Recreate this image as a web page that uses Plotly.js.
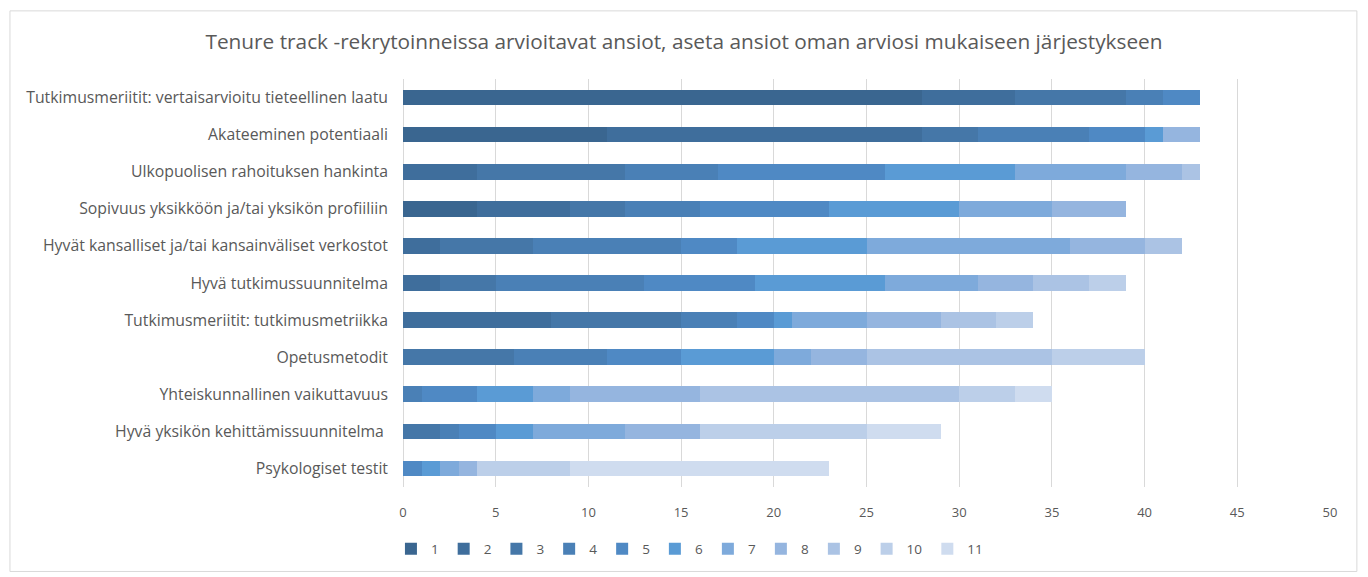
<!DOCTYPE html>
<html>
<head>
<meta charset="utf-8">
<script src="https://cdn.plot.ly/plotly-3.0.1.min.js"></script>
<style>
  html, body { margin: 0; padding: 0; background: #ffffff; }
  #chart { width: 1368px; height: 577px; }
</style>
</head>
<body>
<div id="chart"></div>
<script>
const categories = [
  "Tutkimusmeriitit: vertaisarvioitu tieteellinen laatu",
  "Akateeminen potentiaali",
  "Ulkopuolisen rahoituksen hankinta",
  "Sopivuus yksikköön ja/tai yksikön profiiliin",
  "Hyvät kansalliset ja/tai kansainväliset verkostot",
  "Hyvä tutkimussuunnitelma",
  "Tutkimusmeriitit: tutkimusmetriikka",
  "Opetusmetodit",
  "Yhteiskunnallinen vaikuttavuus",
  "Hyvä yksikön kehittämissuunnitelma\u00a0",
  "Psykologiset testit"
];

const seriesNames = ["1","2","3","4","5","6","7","8","9","10","11"];

const rank1  = [28, 11, 0, 4, 0, 0, 0, 0, 0, 0, 0];
const rank2  = [5, 17, 4, 5, 2, 2, 8, 0, 0, 0, 0];
const rank3  = [6, 3, 8, 3, 5, 3, 7, 6, 0, 2, 0];
const rank4  = [2, 6, 5, 4, 8, 8, 3, 5, 1, 1, 0];
const rank5  = [2, 3, 9, 7, 3, 6, 2, 4, 3, 2, 1];
const rank6  = [0, 1, 7, 7, 7, 7, 1, 5, 3, 2, 1];
const rank7  = [0, 0, 6, 5, 11, 5, 4, 2, 2, 5, 1];
const rank8  = [0, 2, 3, 4, 4, 3, 4, 3, 7, 4, 1];
const rank9  = [0, 0, 1, 0, 2, 3, 3, 10, 14, 0, 0];
const rank10 = [0, 0, 0, 0, 0, 2, 2, 5, 3, 9, 5];
const rank11 = [0, 0, 0, 0, 0, 0, 0, 0, 2, 4, 14];

const seriesValues = [rank1, rank2, rank3, rank4, rank5, rank6, rank7, rank8, rank9, rank10, rank11];

const colors = ["#3a6690", "#3f6e9c", "#4577a8", "#4a80b6", "#4f89c4", "#5a9bd5",
                "#7eaadb", "#95b5df", "#abc3e4", "#bccfe9", "#cfdcef"];

const FONT = "'Open Sans', Lato, sans-serif";

const traces = seriesValues.map((vals, i) => ({
  type: "bar",
  orientation: "h",
  name: seriesNames[i],
  y: categories,
  x: vals,
  marker: { color: colors[i], line: { width: 0 } },
  hoverinfo: "x+name"
}));

const layout = {
  width: 1368,
  height: 577,
  barmode: "stack",
  bargap: 0.58,
  paper_bgcolor: "#ffffff",
  plot_bgcolor: "#ffffff",
  font: { family: FONT, color: "#595959", size: 13 },
  title: {
    text: "Tenure track -rekrytoinneissa arvioitavat ansiot, aseta ansiot oman arviosi mukaiseen järjestykseen",
    font: { family: FONT, size: 20.8, color: "#595959" },
    x: 0.5, xanchor: "center",
    y: 0.927, yanchor: "middle"
  },
  margin: { l: 403, r: 38, t: 79, b: 86 },
  xaxis: {
    range: [0, 50],
    dtick: 5,
    tick0: 0,
    showgrid: true,
    gridcolor: "#d9d9d9",
    gridwidth: 1,
    zeroline: true,
    zerolinecolor: "#d9d9d9",
    showline: false,
    ticks: "",
    ticklabelstandoff: 16,
    tickfont: { family: FONT, size: 13, color: "#595959" },
    fixedrange: true
  },
  yaxis: {
    autorange: "reversed",
    type: "category",
    showgrid: false,
    showline: false,
    ticks: "",
    ticklabelstandoff: 14,
    tickfont: { family: FONT, size: 15.8, color: "#595959" },
    fixedrange: true
  },
  legend: {
    orientation: "h",
    x: 0.309, xanchor: "center",
    y: -0.152, yanchor: "middle",
    traceorder: "normal",
    font: { family: FONT, size: 13.5, color: "#595959" },
    itemwidth: 30
  },
  shapes: [{
    type: "rect",
    xref: "paper", yref: "paper",
    x0: -0.424, x1: 1.029, y0: -0.207, y1: 1.167,
    line: { color: "#d9d9d9", width: 1 },
    fillcolor: "rgba(0,0,0,0)",
    layer: "below"
  }]
};

Plotly.newPlot("chart", traces, layout, { displayModeBar: false });
</script>
</body>
</html>
